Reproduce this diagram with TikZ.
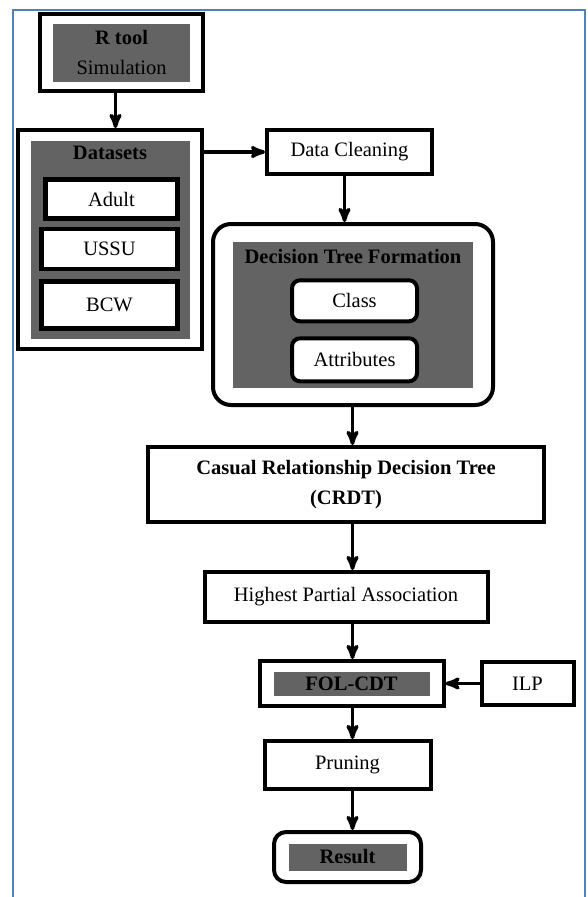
\documentclass[tikz,border=0pt]{standalone}
\usepackage{fontspec}
\setmainfont{Liberation Serif}
\usetikzlibrary{shapes,arrows,positioning,calc}
\definecolor{FrameBlue}{RGB}{79,129,189}
\definecolor{BoxGrey}{RGB}{99,99,99}

\begin{document}
\begin{tikzpicture}[x=1pt, y=-1pt, node distance=40pt]
  \tikzstyle{outer} = [rectangle, draw=black, fill=white, line width=4pt, align=center, font=\fontsize{20.5}{29}\selectfont]
  \tikzstyle{roundouter} = [outer, rounded corners=18pt]
  \tikzstyle{grey} = [rectangle, fill=BoxGrey, inner sep=0pt, align=center, font=\fontsize{20.5}{30}\selectfont]
  \tikzstyle{greytitle} = [grey, font=\fontsize{20.5}{30}\selectfont\bfseries]
  \tikzstyle{item} = [outer, line width=4.5pt]
  \tikzstyle{title} = [inner sep=0pt, font=\fontsize{20.5}{29}\selectfont\bfseries]
  \tikzstyle{line} = [draw=black, -stealth', line width=3.5pt]

  \fill [white] (0,0) rectangle (587,897);
  \useasboundingbox (0,0) rectangle (587,897);
  \draw [FrameBlue, line width=2pt] (13,897) -- (13,10) -- (585,10) -- (585,897);
  \coordinate (spine) at (352.5,0);

  % left column
  \node [outer, minimum width=163pt, minimum height=77pt] (rtool) at (121.5,52.5) {};
  \node [greytitle, minimum width=137pt, minimum height=58pt] (rtoolin) at (rtool) {R tool\\\mdseries Simulation};
  \node [outer, below=35pt of rtool, xshift=-11.5pt, minimum width=184pt, minimum height=219pt] (ds) {};
  \node [grey, minimum width=159pt, minimum height=198pt] (dsin) at (ds) {};
  \node [title, below=6pt of dsin.north] (dstitle) {Datasets};
  \node [item, below=37pt of dsin.north, xshift=1.5pt, minimum width=132pt, minimum height=39pt] (adult) {Adult};
  \node [item, below=6pt of adult, xshift=-2pt, minimum width=136pt, minimum height=40pt] (ussu) {USSU};
  \node [item, below=8pt of ussu, minimum width=136pt, minimum height=47pt] (bcw) {BCW};

  % main column
  \node [outer, right=61pt of ds.north east, anchor=north west, minimum width=165pt, minimum height=44pt] (clean) {Data Cleaning};
  \node [roundouter, below=46pt of clean, xshift=3.5pt, minimum width=280pt, minimum height=181pt] (dtf) {};
  \node [grey, minimum width=240pt, minimum height=146pt] (dtfin) at (dtf) {};
  \node [title, below=8pt of dtfin.north] (dtftitle) {Decision Tree Formation};
  \node [outer, rounded corners=8pt, below=37pt of dtfin.north, xshift=1.5pt, minimum width=125pt, minimum height=41pt] (class) {Class};
  \node [outer, rounded corners=8pt, below=13pt of class, minimum width=125pt, minimum height=43pt] (attr) {Attributes};
  \node [outer, below=38pt of dtf, xshift=-7pt, minimum width=396pt, minimum height=75pt, font=\fontsize{20.5}{30}\selectfont\bfseries] (crdt) {Casual Relationship Decision Tree\\(CRDT)};
  \node [outer, below=46pt of crdt, minimum width=283pt, minimum height=50pt] (hpa) {Highest Partial Association};
  \node [outer, below=35pt of hpa, xshift=5.5pt, minimum width=184pt, minimum height=45pt] (fol) {};
  \node [greytitle, minimum width=156pt, minimum height=24pt] (folin) at (fol) {FOL-CDT};
  \node [outer, right=34pt of fol, minimum width=92pt, minimum height=43pt] (ilp) {ILP};
  \node [outer, below=31pt of fol, xshift=-4pt, minimum width=166pt, minimum height=48pt] (prune) {Pruning};
  \node [roundouter, rounded corners=12pt, below=39pt of prune, minimum width=147pt, minimum height=50pt] (result) {};
  \node [greytitle, minimum width=118pt, minimum height=27pt] (resultin) at (result) {Result};

  \path [line] ([xshift=-6pt]rtool.south) -- ([xshift=-6pt]rtool.south |- ds.north);
  \path [line] (ds.east |- clean.west) -- (clean.west);
  \path [line] ([xshift=-5pt]clean.south) -- ([xshift=-5pt]clean.south |- dtf.north);
  \path [line] (dtf.south -| spine) -- (crdt.north -| spine);
  \path [line] (crdt.south -| spine) -- (hpa.north -| spine);
  \path [line] (hpa.south -| spine) -- (fol.north -| spine);
  \path [line] (ilp.west) -- (fol.east |- ilp.west);
  \path [line] (fol.south -| spine) -- (prune.north -| spine);
  \path [line] (prune.south -| spine) -- (result.north -| spine);
\end{tikzpicture}
\end{document}
